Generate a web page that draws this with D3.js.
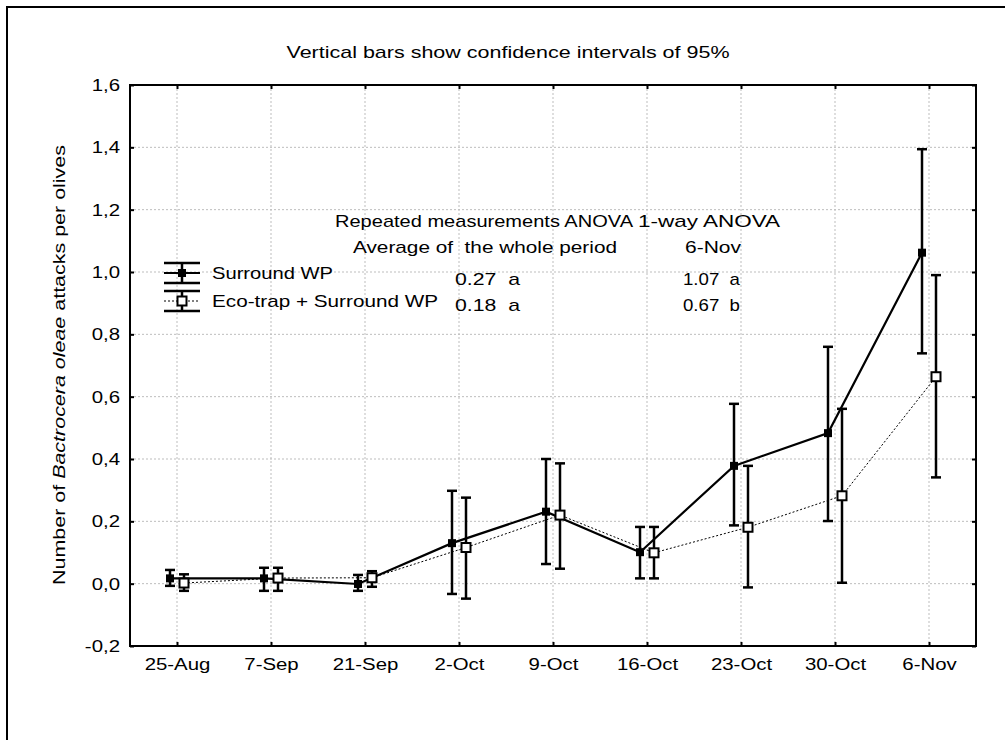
<!DOCTYPE html>
<html><head><meta charset="utf-8">
<script src="https://cdn.jsdelivr.net/npm/d3@7"></script>
<style>
body{margin:0;background:#fff;}
text{font-family:"Liberation Sans",Arial,sans-serif;fill:#000;}
</style></head>
<body>
<svg id="c" width="1005" height="740"></svg>
<script>
const categories = ["25-Aug","7-Sep","21-Sep","2-Oct","9-Oct","16-Oct","23-Oct","30-Oct","6-Nov"];
const seriesNames = ["Surround WP","Eco-trap + Surround WP"];
const surroundMean = [0.017,0.017,-0.001,0.130,0.231,0.101,0.378,0.483,1.062];
const surroundLow  = [-0.007,-0.023,-0.023,-0.033,0.063,0.017,0.187,0.201,0.739];
const surroundHigh = [0.044,0.051,0.028,0.298,0.400,0.182,0.577,0.760,1.394];
const ecoMean = [0.002,0.018,0.019,0.116,0.220,0.099,0.181,0.282,0.664];
const ecoLow  = [-0.023,-0.023,-0.010,-0.048,0.048,0.017,-0.012,0.003,0.341];
const ecoHigh = [0.030,0.051,0.040,0.276,0.386,0.182,0.378,0.561,0.990];
const yTicks = [-0.2,0,0.2,0.4,0.6,0.8,1.0,1.2,1.4,1.6];

const svg = d3.select("#c");
const L=130, R=976, T=85, B=646;
const FS = 17, SX = 1.2;
const x = d3.scalePoint().domain(categories).range([L,R]).padding(0.5);
const y = d3.scaleLinear().domain([-0.2,1.6]).range([B,T]);
const fmt = v => d3.format(".1f")(v).replace(".",",").replace("−","-");

// outer frame
svg.append("rect").attr("x",7).attr("y",7).attr("width",1100).attr("height",800)
  .attr("fill","none").attr("stroke","#000").attr("stroke-width",2);

// grid
const g = svg.append("g");
g.selectAll(".hg").data(yTicks.slice(1,-1)).enter().append("line")
  .attr("x1",L).attr("x2",R).attr("y1",d=>y(d)).attr("y2",d=>y(d))
  .attr("stroke","#bdbdbd").attr("stroke-width",1).attr("stroke-dasharray","2,2");
g.selectAll(".vg").data(categories).enter().append("line")
  .attr("x1",d=>x(d)).attr("x2",d=>x(d)).attr("y1",T).attr("y2",B)
  .attr("stroke","#bdbdbd").attr("stroke-width",1).attr("stroke-dasharray","2,2");

// axes
const axL = d3.axisLeft(y).tickValues(yTicks).tickFormat(fmt).tickSizeInner(-4).tickSizeOuter(0).tickPadding(10);
const axR = d3.axisRight(y).tickValues(yTicks).tickFormat("").tickSizeInner(-4).tickSizeOuter(0);
const axB = d3.axisBottom(x).tickSizeInner(-4).tickSizeOuter(0).tickPadding(12);
const axT = d3.axisTop(x).tickFormat("").tickSizeInner(-4).tickSizeOuter(0);
function styleAx(sel){sel.select(".domain").remove();sel.selectAll("line").attr("stroke","#000").attr("stroke-width",2);
  sel.selectAll("text").attr("font-size",FS).attr("font-family","Liberation Sans, Arial, sans-serif");}
svg.append("g").attr("transform",`translate(${L},0)`).call(axL).call(styleAx)
  .selectAll("text").attr("x",-10/SX).attr("transform",`scale(${SX},1)`);
svg.append("g").attr("transform",`translate(${R},0)`).call(axR).call(styleAx);
svg.append("g").attr("transform",`translate(0,${B})`).call(axB).call(styleAx)
  .selectAll("text").attr("transform",`scale(${SX},1)`);
svg.append("g").attr("transform",`translate(0,${T})`).call(axT).call(styleAx);
svg.append("rect").attr("x",L).attr("y",T).attr("width",R-L).attr("height",B-T)
  .attr("fill","none").attr("stroke","#000").attr("stroke-width",2);

// series
const series = [
  {name:seriesNames[0],mean:surroundMean,lo:surroundLow,hi:surroundHigh,dx:-7,solid:true},
  {name:seriesNames[1],mean:ecoMean,lo:ecoLow,hi:ecoHigh,dx:7,solid:false}
];
series.slice().reverse().forEach(s=>{
  const pts = categories.map((c,i)=>({x:x(c)+s.dx,m:s.mean[i]}));
  svg.append("path").datum(pts)
    .attr("d",d3.line().x(d=>d.x).y(d=>y(d.m)))
    .attr("fill","none").attr("stroke","#000")
    .attr("stroke-width",s.solid?2.2:1).attr("stroke-dasharray",s.solid?null:"2,2");
});
series.forEach(s=>{
  const pts = categories.map((c,i)=>({x:x(c)+s.dx,m:s.mean[i],lo:s.lo[i],hi:s.hi[i]}));
  const eg = svg.append("g");
  eg.selectAll(".v").data(pts).enter().append("line")
    .attr("x1",d=>d.x).attr("x2",d=>d.x).attr("y1",d=>y(d.lo)).attr("y2",d=>y(d.hi))
    .attr("stroke","#000").attr("stroke-width",2.5);
  ["lo","hi"].forEach(k=>{
    eg.selectAll(".c"+k).data(pts).enter().append("line")
      .attr("x1",d=>d.x-5).attr("x2",d=>d.x+5).attr("y1",d=>y(d[k])).attr("y2",d=>y(d[k]))
      .attr("stroke","#000").attr("stroke-width",2.5);
  });
  if(s.solid){
    eg.selectAll(".m").data(pts).enter().append("rect")
      .attr("x",d=>d.x-4).attr("y",d=>y(d.m)-4).attr("width",8).attr("height",8)
      .attr("fill","#000");
  } else {
    eg.selectAll(".m").data(pts).enter().append("rect")
      .attr("x",d=>d.x-4.5).attr("y",d=>y(d.m)-4.5).attr("width",9).attr("height",9)
      .attr("fill","#fff").attr("stroke","#000").attr("stroke-width",2);
  }
});

// helper for text with a fixed rendered width
function txt(xp,yp,s,w,anchor){
  return svg.append("text").attr("x",xp).attr("y",yp).attr("font-size",FS)
    .attr("text-anchor",anchor||"start").attr("textLength",w).attr("lengthAdjust","spacingAndGlyphs")
    .attr("xml:space","preserve").text(s);
}

// title
txt(508,58,"Vertical bars show confidence intervals of 95%",443,"middle");

// y axis title
const yt = svg.append("text").attr("transform","translate(65,365) rotate(-90)")
  .attr("text-anchor","middle").attr("font-size",FS)
  .attr("textLength",440).attr("lengthAdjust","spacingAndGlyphs");
yt.append("tspan").text("Number of ");
yt.append("tspan").attr("font-style","italic").text("Bactrocera oleae");
yt.append("tspan").text(" attacks per olives");

// legend
const legY = [273,301];
const legW = [121,226];
series.forEach((s,i)=>{
  const cy = legY[i], cx = 182;
  svg.append("line").attr("x1",164).attr("x2",200).attr("y1",cy).attr("y2",cy)
    .attr("stroke","#000").attr("stroke-width",s.solid?2.2:1).attr("stroke-dasharray",s.solid?null:"2,2");
  svg.append("line").attr("x1",cx).attr("x2",cx).attr("y1",cy-10).attr("y2",cy+10).attr("stroke","#000").attr("stroke-width",2.5);
  [cy-10,cy+10].forEach(yy=>svg.append("line").attr("x1",164).attr("x2",200).attr("y1",yy).attr("y2",yy).attr("stroke","#000").attr("stroke-width",2.5));
  if(s.solid) svg.append("rect").attr("x",cx-4).attr("y",cy-4).attr("width",8).attr("height",8).attr("fill","#000");
  else svg.append("rect").attr("x",cx-4.5).attr("y",cy-4.5).attr("width",9).attr("height",9).attr("fill","#fff").attr("stroke","#000").attr("stroke-width",2);
  txt(212,cy+6,s.name,legW[i]);
});

// annotation table
const annHeaders = ["Repeated measurements ANOVA","1-way ANOVA"];
const annSub = ["Average of  the whole period","6-Nov"];
const annAvg = ["0.27  a","0.18  a"];
const annNov = ["1.07  a","0.67  b"];
txt(335,227,annHeaders[0],298); txt(638,227,annHeaders[1],142);
txt(353,253,annSub[0],264); txt(685,253,annSub[1],56);
txt(455,285,annAvg[0],65); txt(683,285,annNov[0],57);
txt(455,311,annAvg[1],65); txt(683,311,annNov[1],57);
</script>
</body></html>
